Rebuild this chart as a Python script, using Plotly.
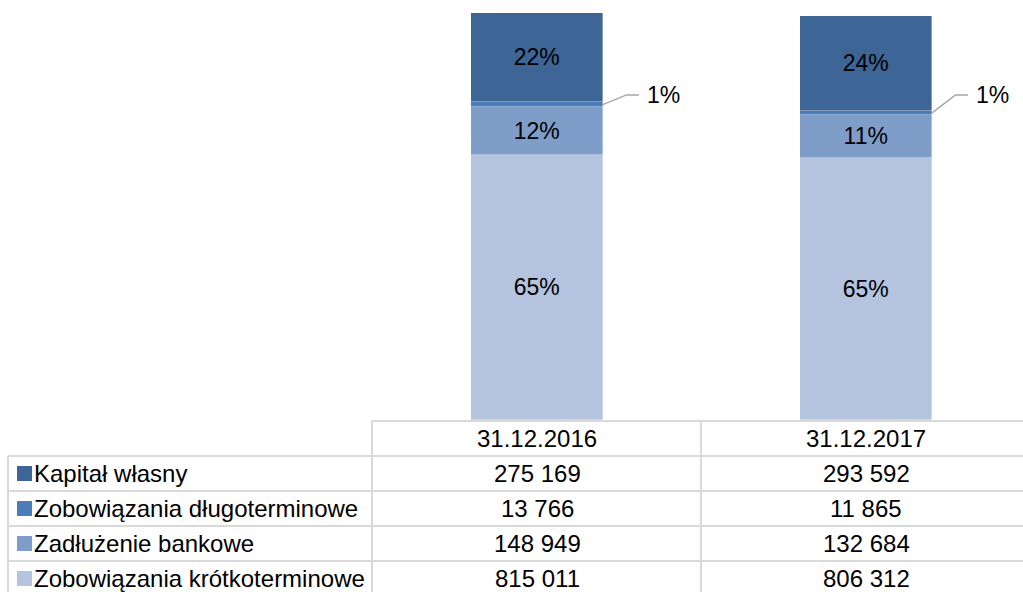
import plotly.graph_objects as go

# ---- data ----
categories = ["31.12.2016", "31.12.2017"]
series_names = ["Kapitał własny", "Zobowiązania długoterminowe",
                "Zadłużenie bankowe", "Zobowiązania krótkoterminowe"]
kapital_wlasny = [275169, 293592]
zob_dlugoterminowe = [13766, 11865]
zadluzenie_bankowe = [148949, 132684]
zob_krotkoterminowe = [815011, 806312]

# ---- styles ----
colors = {
    "Kapitał własny": "#3D6595",
    "Zobowiązania długoterminowe": "#4A7CB8",
    "Zadłużenie bankowe": "#7F9DC9",
    "Zobowiązania krótkoterminowe": "#B4C3DE",
}
FONT = "Liberation Sans, Arial, sans-serif"
W, H = 1023, 592
TABLE_TOP_PX = 421
ROW_H = 35
TABLE_LEFT_PX = 8
COL1_PX = 372
COL2_PX = 701
GRID = "#D9D9D9"

series = {
    "Kapitał własny": kapital_wlasny,
    "Zobowiązania długoterminowe": zob_dlugoterminowe,
    "Zadłużenie bankowe": zadluzenie_bankowe,
    "Zobowiązania krótkoterminowe": zob_krotkoterminowe,
}
totals = [sum(series[n][i] for n in series_names) for i in range(len(categories))]
pct = {n: [round(series[n][i] / totals[i] * 100) for i in range(len(categories))] for n in series_names}

xpos = list(range(len(categories)))
BAR_W = 0.4
y_max = max(totals) * 1.032

fig = go.Figure()
stack_order = ["Zobowiązania krótkoterminowe", "Zadłużenie bankowe",
               "Zobowiązania długoterminowe", "Kapitał własny"]
for n in stack_order:
    small = n == "Zobowiązania długoterminowe"
    fig.add_trace(go.Bar(
        x=xpos, y=series[n], width=BAR_W, name=n,
        marker=dict(color=colors[n], line=dict(color="rgba(255,255,255,0.6)", width=0.6)),
        text=None if small else [f"{p}%" for p in pct[n]],
        textposition="inside", insidetextanchor="middle", textangle=0,
        textfont=dict(family=FONT, size=23, color="black"),
        showlegend=False, hoverinfo="skip",
    ))

# leader lines + outside labels for the thin segment
LEADER_Y = y_max * 0.774
for i in xpos:
    base = zob_krotkoterminowe[i] + zadluzenie_bankowe[i]
    mid = base + zob_dlugoterminowe[i] / 2
    x0 = i + BAR_W / 2
    fig.add_trace(go.Scatter(
        x=[x0, x0 + 0.072, x0 + 0.11], y=[mid, LEADER_Y, LEADER_Y],
        mode="lines", line=dict(color="#A6A6A6", width=1.5),
        showlegend=False, hoverinfo="skip",
    ))
    fig.add_annotation(
        x=x0 + 0.128, y=LEADER_Y, xref="x", yref="y",
        text=f"{pct['Zobowiązania długoterminowe'][i]}%",
        showarrow=False, xanchor="left", yanchor="middle",
        font=dict(family=FONT, size=23, color="black"),
    )

# ---- data table (grid + texts) ----
def fmt(v):
    return f"{v:,}".replace(",", " ")

def py(px):
    return 1 - px / H

def pxx(px):
    return px / W

table_rows = ["Kapitał własny", "Zobowiązania długoterminowe",
              "Zadłużenie bankowe", "Zobowiązania krótkoterminowe"]
n_rows = len(table_rows) + 1
row_edges = [TABLE_TOP_PX + k * ROW_H for k in range(n_rows + 1)]
bottom_px = row_edges[-1]

line_style = dict(color=GRID, width=2)
# horizontal lines
fig.add_shape(type="line", xref="paper", yref="paper",
              x0=pxx(COL1_PX), x1=1, y0=py(row_edges[0]), y1=py(row_edges[0]), line=line_style)
for e in row_edges[1:]:
    fig.add_shape(type="line", xref="paper", yref="paper",
                  x0=pxx(TABLE_LEFT_PX), x1=1, y0=py(e), y1=py(e), line=line_style)
# vertical lines
fig.add_shape(type="line", xref="paper", yref="paper",
              x0=pxx(TABLE_LEFT_PX), x1=pxx(TABLE_LEFT_PX),
              y0=py(row_edges[1]), y1=py(bottom_px), line=line_style)
for xv in (COL1_PX, COL2_PX):
    fig.add_shape(type="line", xref="paper", yref="paper",
                  x0=pxx(xv), x1=pxx(xv), y0=py(row_edges[0]), y1=py(bottom_px), line=line_style)

# header texts (dates) centred under the bars
for i, c in enumerate(categories):
    fig.add_annotation(x=i, xref="x", y=py(row_edges[0] + ROW_H / 2), yref="paper",
                       text=c, showarrow=False, xanchor="center", yanchor="middle",
                       font=dict(family=FONT, size=24, color="black"))

# body rows
SQ = 15
for r, n in enumerate(table_rows):
    yc = row_edges[r + 1] + ROW_H / 2
    fig.add_shape(type="rect", xref="paper", yref="paper",
                  x0=pxx(17), x1=pxx(17 + SQ), y0=py(yc - SQ / 2), y1=py(yc + SQ / 2),
                  fillcolor=colors[n], line=dict(width=0))
    fig.add_annotation(x=pxx(32), xref="paper", y=py(yc), yref="paper",
                       text=n, showarrow=False, xanchor="left", yanchor="middle",
                       font=dict(family=FONT, size=24, color="black"))
    for i in xpos:
        fig.add_annotation(x=i, xref="x", y=py(yc), yref="paper",
                           text=fmt(series[n][i]), showarrow=False,
                           xanchor="center", yanchor="middle",
                           font=dict(family=FONT, size=24, color="black"))

x_left = -537 / 329
fig.update_layout(
    width=W, height=H,
    margin=dict(l=0, r=0, t=0, b=0),
    paper_bgcolor="white", plot_bgcolor="white",
    barmode="stack", bargap=0,
    xaxis=dict(range=[x_left, x_left + W / 329], visible=False, fixedrange=True),
    yaxis=dict(range=[0, y_max], domain=[py(TABLE_TOP_PX) + 1 / H, 1],
               visible=False, fixedrange=True),
    font=dict(family=FONT),
)

fig.write_html("out.html")
